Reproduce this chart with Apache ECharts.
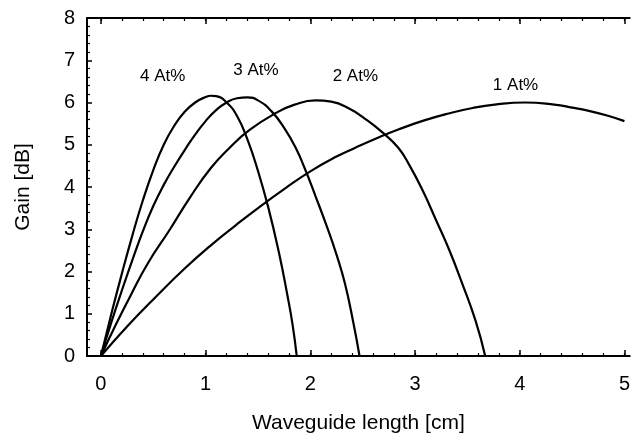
<!DOCTYPE html>
<html>
<head>
<meta charset="utf-8">
<script src="https://cdn.jsdelivr.net/npm/echarts@6/dist/echarts.min.js"></script>
<style>html,body{margin:0;padding:0;background:#fff;}#c{width:633px;height:439px;}</style>
</head>
<body>
<div id="c"></div>
<script>
// ---- data ----
const seriesNames = ['4 At%', '3 At%', '2 At%', '1 At%'];
const x4 = [0, 0.1, 0.2, 0.3, 0.4, 0.5, 0.6, 0.7, 0.8, 0.9, 1.0, 1.05, 1.1, 1.2, 1.3, 1.4, 1.5, 1.6, 1.7, 1.78, 1.83, 1.87];
const y4 = [0, 1.0, 1.95, 2.85, 3.68, 4.4, 5.0, 5.45, 5.78, 6.0, 6.13, 6.16, 6.15, 6.0, 5.68, 5.12, 4.38, 3.5, 2.45, 1.45, 0.75, 0];
const x3 = [0, 0.1, 0.2, 0.3, 0.4, 0.5, 0.6, 0.7, 0.82, 0.9, 1.0, 1.1, 1.2, 1.3, 1.4, 1.5, 1.63, 1.75, 1.86, 1.95, 2.05, 2.16, 2.25, 2.33, 2.41, 2.47];
const y3 = [0, 0.8, 1.55, 2.27, 2.95, 3.55, 4.05, 4.48, 4.95, 5.24, 5.56, 5.82, 6.0, 6.1, 6.12, 6.05, 5.79, 5.4, 4.93, 4.42, 3.78, 3.05, 2.4, 1.72, 0.8, 0];
const x2 = [0, 0.15, 0.285, 0.45, 0.66, 0.85, 1.05, 1.23, 1.42, 1.67, 1.85, 2.05, 2.2, 2.37, 2.52, 2.68, 2.84, 2.95, 3.08, 3.2, 3.32, 3.45, 3.58, 3.67];
const y2 = [0, 0.78, 1.44, 2.2, 3.0, 3.75, 4.45, 4.93, 5.35, 5.75, 5.95, 6.05, 6.02, 5.86, 5.62, 5.31, 4.93, 4.5, 3.88, 3.22, 2.55, 1.72, 0.82, 0];
const x1 = [0, 0.25, 0.54, 0.8, 1.05, 1.29, 1.51, 1.75, 2.0, 2.25, 2.43, 2.64, 2.84, 3.08, 3.32, 3.55, 3.76, 4.05, 4.33, 4.5, 4.68, 4.85, 5.0];
const y1 = [0, 0.7, 1.44, 2.07, 2.62, 3.1, 3.52, 3.95, 4.37, 4.72, 4.93, 5.16, 5.36, 5.57, 5.74, 5.87, 5.95, 6.0, 5.95, 5.88, 5.79, 5.68, 5.56];
const labelX = [0.59, 1.48, 2.43, 3.96];
const labelY = [6.62, 6.76, 6.62, 6.40];
const xTickLabels = [0, 1, 2, 3, 4, 5];
const yTickLabels = [0, 1, 2, 3, 4, 5, 6, 7, 8];

const xsAll = [x4, x3, x2, x1];
const ysAll = [y4, y3, y2, y1];

const FONT = '"Liberation Sans", Arial, sans-serif';
const xMin = -0.133, xMax = 5.05;
const minorX = [];
for (let i = 0; i <= 25; i++) minorX.push(+(i * 0.2).toFixed(2));

const chart = echarts.init(document.getElementById('c'), null, {renderer: 'canvas'});

const series = seriesNames.map((name, k) => ({
  name: name,
  type: 'line',
  xAxisIndex: 0,
  yAxisIndex: 0,
  data: xsAll[k].map((x, i) => [x, ysAll[k][i]]),
  smooth: 0.5,
  showSymbol: false,
  symbol: 'none',
  lineStyle: {color: '#000', width: 2.2},
  animation: false,
  markPoint: {
    symbol: 'circle',
    symbolSize: 0,
    data: [{coord: [labelX[k], labelY[k]], value: name}],
    label: {show: true, position: 'inside', formatter: name, color: '#000', fontSize: 17, fontFamily: FONT},
    animation: false
  }
}));

const axBase = {type: 'value', min: xMin, max: xMax, splitLine: {show: false}};

chart.setOption({
  backgroundColor: '#fff',
  animation: false,
  grid: {left: 87, right: 1, top: 18, bottom: 77, containLabel: false},
  xAxis: [
    Object.assign({}, axBase, {
      position: 'bottom',
      name: 'Waveguide length [cm]',
      nameLocation: 'middle',
      nameGap: 57,
      nameTextStyle: {color: '#000', fontSize: 21, fontFamily: FONT},
      axisLine: {show: true, onZero: false, lineStyle: {color: '#000', width: 2}},
      axisTick: {show: true, inside: true, length: 6, customValues: xTickLabels, lineStyle: {color: '#000', width: 1.5}},
      axisLabel: {show: true, customValues: xTickLabels, color: '#000', fontSize: 20, fontFamily: FONT, margin: 18}
    }),
    Object.assign({}, axBase, {
      position: 'bottom',
      axisLine: {show: false, onZero: false},
      axisTick: {show: true, inside: true, length: 3, customValues: minorX, lineStyle: {color: '#000', width: 1.2}},
      axisLabel: {show: false}
    }),
    Object.assign({}, axBase, {
      position: 'top',
      axisLine: {show: true, onZero: false, lineStyle: {color: '#000', width: 2}},
      axisTick: {show: true, inside: true, length: 6, customValues: xTickLabels, lineStyle: {color: '#000', width: 1.5}},
      axisLabel: {show: false}
    }),
    Object.assign({}, axBase, {
      position: 'top',
      axisLine: {show: false, onZero: false},
      axisTick: {show: true, inside: true, length: 3, customValues: minorX, lineStyle: {color: '#000', width: 1.2}},
      axisLabel: {show: false}
    })
  ],
  yAxis: [{
    type: 'value',
    min: 0, max: 8, interval: 1,
    position: 'left',
    name: 'Gain [dB]',
    nameLocation: 'middle',
    nameGap: 53,
    nameRotate: 90,
    nameTextStyle: {color: '#000', fontSize: 21, fontFamily: FONT},
    axisLine: {show: true, onZero: false, lineStyle: {color: '#000', width: 2}},
    axisTick: {show: true, inside: true, length: 5, lineStyle: {color: '#000', width: 1.5}},
    minorTick: {show: true, splitNumber: 5, length: 3, lineStyle: {color: '#000', width: 1.2}},
    axisLabel: {color: '#000', fontSize: 20, fontFamily: FONT, margin: 12, padding: [8, 0, 0, 0],
      formatter: v => (yTickLabels.indexOf(v) >= 0 ? String(v) : '')},
    splitLine: {show: false}
  }],
  series: series
});
</script>
</body>
</html>
